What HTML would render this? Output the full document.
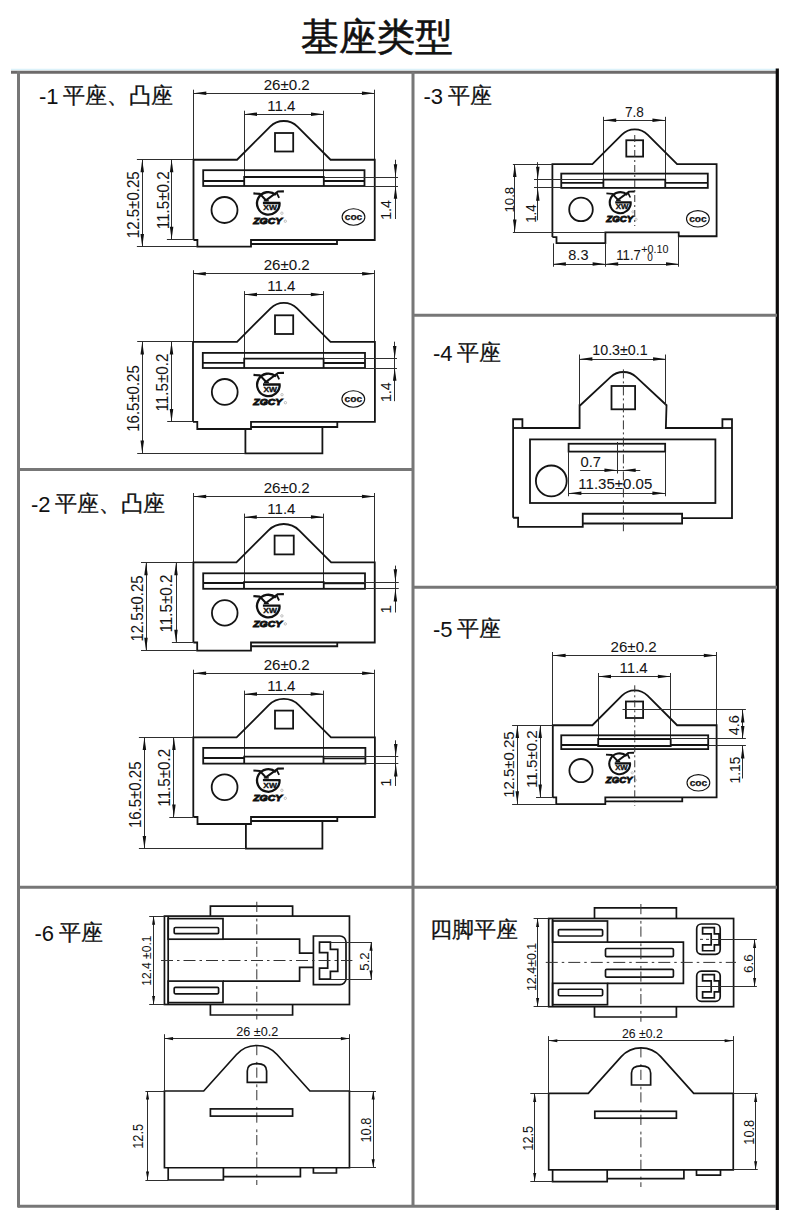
<!DOCTYPE html>
<html><head><meta charset="utf-8"><style>
html,body{margin:0;padding:0;background:#fff;width:800px;height:1210px;overflow:hidden}
svg{display:block;font-family:'Liberation Sans', sans-serif}
.cjk{font-family:'Liberation Sans', sans-serif}
</style></head><body>
<svg width="800" height="1210" viewBox="0 0 800 1210">
<line x1="11" y1="69.5" x2="776" y2="69.5" stroke="#dcf2fa" stroke-width="1.5"/>
<line x1="11" y1="72.3" x2="777" y2="72.3" stroke="#6d6a6a" stroke-width="3"/>
<line x1="18.5" y1="71" x2="18.5" y2="1207.5" stroke="#777777" stroke-width="3"/>
<line x1="413" y1="72" x2="413" y2="1206" stroke="#777777" stroke-width="3"/>
<line x1="777.3" y1="68.5" x2="777.3" y2="1210" stroke="#0d0b0b" stroke-width="3.2"/>
<line x1="18" y1="1206.3" x2="776" y2="1206.3" stroke="#777777" stroke-width="3"/>
<line x1="18" y1="469.5" x2="413" y2="469.5" stroke="#777777" stroke-width="3"/>
<line x1="413" y1="315.2" x2="777" y2="315.2" stroke="#777777" stroke-width="3"/>
<line x1="413" y1="587.3" x2="777" y2="587.3" stroke="#777777" stroke-width="3"/>
<line x1="18" y1="887.3" x2="777" y2="887.3" stroke="#777777" stroke-width="3"/>
<text x="301" y="50" font-size="38" fill="#111" stroke="#111" stroke-width="0.6">基座类型</text>
<text x="39" y="103.6" font-size="22" fill="#111">-1</text>
<text x="63" y="102.6" font-size="22" fill="#111" stroke="#111" stroke-width="0.3">平座、凸座</text>
<text x="423.5" y="103.8" font-size="22" fill="#111">-3</text>
<text x="447.5" y="102.8" font-size="22" fill="#111" stroke="#111" stroke-width="0.3">平座</text>
<text x="31" y="512" font-size="22" fill="#111">-2</text>
<text x="55" y="511" font-size="22" fill="#111" stroke="#111" stroke-width="0.3">平座、凸座</text>
<text x="433" y="361.3" font-size="22" fill="#111">-4</text>
<text x="457" y="360.3" font-size="22" fill="#111" stroke="#111" stroke-width="0.3">平座</text>
<text x="433" y="637.3" font-size="22" fill="#111">-5</text>
<text x="456.5" y="636.3" font-size="22" fill="#111" stroke="#111" stroke-width="0.3">平座</text>
<text x="34.5" y="941" font-size="22" fill="#111">-6</text>
<text x="59" y="940" font-size="22" fill="#111" stroke="#111" stroke-width="0.3">平座</text>
<text x="430" y="936.8" font-size="22" fill="#111" stroke="#111" stroke-width="0.3">四脚平座</text>
<line x1="193.5" y1="89.7" x2="193.5" y2="159.75" stroke="#2e2e2e" stroke-width="1.0"/>
<line x1="374.5" y1="89.7" x2="374.5" y2="159.75" stroke="#2e2e2e" stroke-width="1.0"/>
<line x1="193.5" y1="93.5" x2="374.75" y2="93.5" stroke="#2e2e2e" stroke-width="1.0"/>
<path d="M193.5 93.2 L206.3 94.95 L206.3 91.45 Z" fill="#111"/>
<path d="M374.75 93.2 L361.95 91.45 L361.95 94.95 Z" fill="#111"/>
<text x="286.7" y="89.6" font-size="15.5" text-anchor="middle" font-weight="normal" fill="#141414" stroke="#141414" stroke-width="0.05" textLength="46.15" lengthAdjust="spacingAndGlyphs">26±0.2</text>
<line x1="244.5" y1="110.7" x2="244.5" y2="177" stroke="#2e2e2e" stroke-width="1.0"/>
<line x1="323.5" y1="110.7" x2="323.5" y2="177" stroke="#2e2e2e" stroke-width="1.0"/>
<line x1="244.2" y1="114.5" x2="323.8" y2="114.5" stroke="#2e2e2e" stroke-width="1.0"/>
<path d="M244.2 114.2 L257 115.95 L257 112.45 Z" fill="#111"/>
<path d="M323.8 114.2 L311 112.45 L311 115.95 Z" fill="#111"/>
<text x="281.4" y="110.7" font-size="15.5" text-anchor="middle" font-weight="normal" fill="#141414" stroke="#141414" stroke-width="0.05" textLength="28.2" lengthAdjust="spacingAndGlyphs">11.4</text>
<path d="M193.5 240 L193.5 159.75 L237.05 159.75 L270.14 126.66 A19.31 19.31 0 0 1 297.46 126.66 L330.55 159.75 L374.75 159.75 L374.75 240 L251 240 L251 246.6 L197.4 246.6 L197.4 240 L193.5 240" stroke="#141414" stroke-width="1.8" fill="none"/>
<rect x="275" y="133" width="18.2" height="18.5" stroke="#141414" stroke-width="1.8" fill="none"/>
<rect x="203.2" y="170.2" width="161.3" height="15.8" stroke="#141414" stroke-width="1.8" fill="none"/>
<line x1="203.2" y1="181" x2="244.2" y2="181" stroke="#141414" stroke-width="1.8"/>
<line x1="323.8" y1="181" x2="364.5" y2="181" stroke="#141414" stroke-width="1.8"/>
<path d="M244.2 186 L244.2 177 L323.8 177 L323.8 186" stroke="#141414" stroke-width="1.8" fill="none"/>
<circle cx="224.5" cy="210" r="13" stroke="#141414" stroke-width="1.8" fill="none"/>
<g transform="translate(268.3,203.4) scale(1.0)"><path d="M7.6 -8.4 A11.3 11.3 0 1 0 11.3 -0.4 L12.2 -0.4 L-5.4 -0.4" stroke="#111" stroke-width="2.3" fill="none"/><path d="M8.4 -10.6 L10.8 -5.6" stroke="#111" stroke-width="1.8" fill="none"/><text x="1.85" y="7.1" font-size="7.6" font-weight="bold" text-anchor="middle" fill="#111" stroke="#111" stroke-width="0.35" textLength="13.6" lengthAdjust="spacingAndGlyphs" font-family="'Liberation Sans', sans-serif">XW</text><path d="M-14.9 -10 L-8.4 -9.5 L-2.4 -3.1 L9.6 -11.9 L15.6 -12" stroke="#111" stroke-width="2.1" fill="none" stroke-linejoin="bevel"/><path d="M-4.5 -2.6 L0.5 -2.6" stroke="#111" stroke-width="1.4"/><text x="-0.6" y="20.6" font-size="9" font-weight="bold" font-style="italic" text-anchor="middle" fill="#111" stroke="#111" stroke-width="0.9" textLength="29" lengthAdjust="spacingAndGlyphs" font-family="'Liberation Sans', sans-serif">ZGCY</text><circle cx="13.6" cy="9.8" r="1.2" stroke="#999" stroke-width="0.6" fill="none"/><circle cx="17" cy="17.8" r="1.2" stroke="#999" stroke-width="0.6" fill="none"/></g>
<ellipse cx="353.5" cy="217" rx="11.4" ry="8.2" stroke="#111" stroke-width="1.1" fill="none"/>
<text x="353.5" y="219.9" font-size="9" font-weight="bold" text-anchor="middle" fill="#111" stroke="#111" stroke-width="0.25" textLength="17.5" lengthAdjust="spacingAndGlyphs">coc</text>
<path d="M251 244 L337 244 L337 240" stroke="#141414" stroke-width="1.8" fill="none"/>
<line x1="136.9" y1="159.5" x2="193.5" y2="159.5" stroke="#2e2e2e" stroke-width="1.0"/>
<line x1="166.9" y1="239.5" x2="193.5" y2="239.5" stroke="#2e2e2e" stroke-width="1.0"/>
<line x1="136.9" y1="246.5" x2="197.4" y2="246.5" stroke="#2e2e2e" stroke-width="1.0"/>
<line x1="142.5" y1="159.5" x2="142.5" y2="246.9" stroke="#2e2e2e" stroke-width="1.0"/>
<path d="M142.25 159.5 L140.5 172.3 L144 172.3 Z" fill="#111"/>
<path d="M142.25 246.9 L144 234.1 L140.5 234.1 Z" fill="#111"/>
<line x1="171.5" y1="159.5" x2="171.5" y2="239.6" stroke="#2e2e2e" stroke-width="1.0"/>
<path d="M171.6 159.5 L169.85 172.3 L173.35 172.3 Z" fill="#111"/>
<path d="M171.6 239.6 L173.35 226.8 L169.85 226.8 Z" fill="#111"/>
<text transform="translate(132.55,204.75) rotate(-90)" x="0" y="5.94" font-size="16.5" text-anchor="middle" fill="#141414" stroke="#141414" stroke-width="0.05" textLength="66.95" lengthAdjust="spacingAndGlyphs">12.5±0.25</text>
<text transform="translate(162.55,200.25) rotate(-90)" x="0" y="5.94" font-size="16.5" text-anchor="middle" fill="#141414" stroke="#141414" stroke-width="0.05" textLength="57.95" lengthAdjust="spacingAndGlyphs">11.5±0.2</text>
<line x1="323.8" y1="177.5" x2="398" y2="177.5" stroke="#2e2e2e" stroke-width="1.0"/>
<line x1="364.5" y1="186.5" x2="398" y2="186.5" stroke="#2e2e2e" stroke-width="1.0"/>
<line x1="395.5" y1="159.75" x2="395.5" y2="219" stroke="#2e2e2e" stroke-width="1.0"/>
<path d="M395.5 177 L397.25 164.2 L393.75 164.2 Z" fill="#111"/>
<path d="M395.5 186 L393.75 198.8 L397.25 198.8 Z" fill="#111"/>
<text transform="translate(385.55,210) rotate(-90)" x="0" y="5.4" font-size="15" text-anchor="middle" fill="#141414" stroke="#141414" stroke-width="0.05" textLength="19.7" lengthAdjust="spacingAndGlyphs">1.4</text>
<line x1="193.5" y1="270.2" x2="193.5" y2="341.8" stroke="#2e2e2e" stroke-width="1.0"/>
<line x1="374.5" y1="270.2" x2="374.5" y2="341.8" stroke="#2e2e2e" stroke-width="1.0"/>
<line x1="193" y1="273.5" x2="374.9" y2="273.5" stroke="#2e2e2e" stroke-width="1.0"/>
<path d="M193 273.7 L205.8 275.45 L205.8 271.95 Z" fill="#111"/>
<path d="M374.9 273.7 L362.1 271.95 L362.1 275.45 Z" fill="#111"/>
<text x="286.7" y="270.1" font-size="15.5" text-anchor="middle" font-weight="normal" fill="#141414" stroke="#141414" stroke-width="0.05" textLength="46.15" lengthAdjust="spacingAndGlyphs">26±0.2</text>
<line x1="244.5" y1="291.1" x2="244.5" y2="358.7" stroke="#2e2e2e" stroke-width="1.0"/>
<line x1="323.5" y1="291.1" x2="323.5" y2="358.7" stroke="#2e2e2e" stroke-width="1.0"/>
<line x1="244.2" y1="294.5" x2="323.6" y2="294.5" stroke="#2e2e2e" stroke-width="1.0"/>
<path d="M244.2 294.6 L257 296.35 L257 292.85 Z" fill="#111"/>
<path d="M323.6 294.6 L310.8 292.85 L310.8 296.35 Z" fill="#111"/>
<text x="281.4" y="291.1" font-size="15.5" text-anchor="middle" font-weight="normal" fill="#141414" stroke="#141414" stroke-width="0.05" textLength="28.2" lengthAdjust="spacingAndGlyphs">11.4</text>
<path d="M193 421.9 L193 341.8 L237.05 341.8 L270.57 308.28 A18.71 18.71 0 0 1 297.03 308.28 L330.55 341.8 L374.9 341.8 L374.9 421.9 L251 421.9 L251 429 L197.3 429 L197.3 421.9 L193 421.9" stroke="#141414" stroke-width="1.8" fill="none"/>
<rect x="275" y="315.3" width="18.2" height="18.7" stroke="#141414" stroke-width="1.8" fill="none"/>
<rect x="202.8" y="352.9" width="162.2" height="15.1" stroke="#141414" stroke-width="1.8" fill="none"/>
<line x1="202.8" y1="362.8" x2="244.2" y2="362.8" stroke="#141414" stroke-width="1.8"/>
<line x1="323.6" y1="363" x2="365" y2="363" stroke="#141414" stroke-width="1.8"/>
<path d="M244.2 368 L244.2 358.7 L323.6 358.7 L323.6 368" stroke="#141414" stroke-width="1.8" fill="none"/>
<circle cx="224.75" cy="391.9" r="12.9" stroke="#141414" stroke-width="1.8" fill="none"/>
<g transform="translate(268.4,384.9) scale(1.0)"><path d="M7.6 -8.4 A11.3 11.3 0 1 0 11.3 -0.4 L12.2 -0.4 L-5.4 -0.4" stroke="#111" stroke-width="2.3" fill="none"/><path d="M8.4 -10.6 L10.8 -5.6" stroke="#111" stroke-width="1.8" fill="none"/><text x="1.85" y="7.1" font-size="7.6" font-weight="bold" text-anchor="middle" fill="#111" stroke="#111" stroke-width="0.35" textLength="13.6" lengthAdjust="spacingAndGlyphs" font-family="'Liberation Sans', sans-serif">XW</text><path d="M-14.9 -10 L-8.4 -9.5 L-2.4 -3.1 L9.6 -11.9 L15.6 -12" stroke="#111" stroke-width="2.1" fill="none" stroke-linejoin="bevel"/><path d="M-4.5 -2.6 L0.5 -2.6" stroke="#111" stroke-width="1.4"/><text x="-0.6" y="20.6" font-size="9" font-weight="bold" font-style="italic" text-anchor="middle" fill="#111" stroke="#111" stroke-width="0.9" textLength="29" lengthAdjust="spacingAndGlyphs" font-family="'Liberation Sans', sans-serif">ZGCY</text><circle cx="13.6" cy="9.8" r="1.2" stroke="#999" stroke-width="0.6" fill="none"/><circle cx="17" cy="17.8" r="1.2" stroke="#999" stroke-width="0.6" fill="none"/></g>
<ellipse cx="353.3" cy="399" rx="11.4" ry="8.2" stroke="#111" stroke-width="1.1" fill="none"/>
<text x="353.3" y="401.9" font-size="9" font-weight="bold" text-anchor="middle" fill="#111" stroke="#111" stroke-width="0.25" textLength="17.5" lengthAdjust="spacingAndGlyphs">coc</text>
<path d="M251 427 L337.3 427 L337.3 421.9" stroke="#141414" stroke-width="1.8" fill="none"/>
<path d="M245.4 429 L245.4 453.4 L322.4 453.4 L322.4 427" stroke="#141414" stroke-width="1.8" fill="none"/>
<line x1="137.2" y1="341.5" x2="193" y2="341.5" stroke="#2e2e2e" stroke-width="1.0"/>
<line x1="167.2" y1="421.5" x2="193" y2="421.5" stroke="#2e2e2e" stroke-width="1.0"/>
<line x1="137.2" y1="453.5" x2="245.4" y2="453.5" stroke="#2e2e2e" stroke-width="1.0"/>
<line x1="142.5" y1="341.8" x2="142.5" y2="453.4" stroke="#2e2e2e" stroke-width="1.0"/>
<path d="M142.25 341.8 L140.5 354.6 L144 354.6 Z" fill="#111"/>
<path d="M142.25 453.4 L144 440.6 L140.5 440.6 Z" fill="#111"/>
<line x1="171.5" y1="341.8" x2="171.5" y2="421.9" stroke="#2e2e2e" stroke-width="1.0"/>
<path d="M171.5 341.8 L169.75 354.6 L173.25 354.6 Z" fill="#111"/>
<path d="M171.5 421.9 L173.25 409.1 L169.75 409.1 Z" fill="#111"/>
<text transform="translate(132.7,398.5) rotate(-90)" x="0" y="5.94" font-size="16.5" text-anchor="middle" fill="#141414" stroke="#141414" stroke-width="0.05" textLength="66.55" lengthAdjust="spacingAndGlyphs">16.5±0.25</text>
<text transform="translate(162.5,382.6) rotate(-90)" x="0" y="5.94" font-size="16.5" text-anchor="middle" fill="#141414" stroke="#141414" stroke-width="0.05" textLength="57.9" lengthAdjust="spacingAndGlyphs">11.5±0.2</text>
<line x1="323.6" y1="358.5" x2="397" y2="358.5" stroke="#2e2e2e" stroke-width="1.0"/>
<line x1="365" y1="368.5" x2="397" y2="368.5" stroke="#2e2e2e" stroke-width="1.0"/>
<line x1="394.5" y1="341.7" x2="394.5" y2="401.2" stroke="#2e2e2e" stroke-width="1.0"/>
<path d="M394.7 358.7 L396.45 345.9 L392.95 345.9 Z" fill="#111"/>
<path d="M394.7 368 L392.95 380.8 L396.45 380.8 Z" fill="#111"/>
<text transform="translate(385.8,392.2) rotate(-90)" x="0" y="5.4" font-size="15" text-anchor="middle" fill="#141414" stroke="#141414" stroke-width="0.05" textLength="19.7" lengthAdjust="spacingAndGlyphs">1.4</text>
<line x1="193.5" y1="493" x2="193.5" y2="562.4" stroke="#2e2e2e" stroke-width="1.0"/>
<line x1="374.5" y1="493" x2="374.5" y2="562.4" stroke="#2e2e2e" stroke-width="1.0"/>
<line x1="193.4" y1="496.5" x2="374.75" y2="496.5" stroke="#2e2e2e" stroke-width="1.0"/>
<path d="M193.4 496.5 L206.2 498.25 L206.2 494.75 Z" fill="#111"/>
<path d="M374.75 496.5 L361.95 494.75 L361.95 498.25 Z" fill="#111"/>
<text x="286.7" y="492.9" font-size="15.5" text-anchor="middle" font-weight="normal" fill="#141414" stroke="#141414" stroke-width="0.05" textLength="46.15" lengthAdjust="spacingAndGlyphs">26±0.2</text>
<line x1="244.5" y1="513.6" x2="244.5" y2="582.1" stroke="#2e2e2e" stroke-width="1.0"/>
<line x1="323.5" y1="513.6" x2="323.5" y2="582.1" stroke="#2e2e2e" stroke-width="1.0"/>
<line x1="244" y1="517.5" x2="323.75" y2="517.5" stroke="#2e2e2e" stroke-width="1.0"/>
<path d="M244 517.1 L256.8 518.85 L256.8 515.35 Z" fill="#111"/>
<path d="M323.75 517.1 L310.95 515.35 L310.95 518.85 Z" fill="#111"/>
<text x="281.4" y="513.6" font-size="15.5" text-anchor="middle" font-weight="normal" fill="#141414" stroke="#141414" stroke-width="0.05" textLength="28.2" lengthAdjust="spacingAndGlyphs">11.4</text>
<path d="M193.4 642.5 L193.4 562.4 L236.43 562.4 L268.48 530.35 A21.67 21.67 0 0 1 299.12 530.35 L331.18 562.4 L374.75 562.4 L374.75 642.5 L251 642.5 L251 650.6 L197.2 650.6 L197.2 642.5 L193.4 642.5" stroke="#141414" stroke-width="1.8" fill="none"/>
<rect x="274.6" y="535.6" width="19.15" height="18.8" stroke="#141414" stroke-width="1.8" fill="none"/>
<rect x="203.2" y="573.3" width="161.8" height="15.5" stroke="#141414" stroke-width="1.8" fill="none"/>
<line x1="203.2" y1="583" x2="244" y2="583" stroke="#141414" stroke-width="1.8"/>
<line x1="323.75" y1="583.4" x2="365" y2="583.4" stroke="#141414" stroke-width="1.8"/>
<path d="M244 588.8 L244 582.1 L323.75 582.1 L323.75 588.8" stroke="#141414" stroke-width="1.8" fill="none"/>
<circle cx="224.75" cy="612.9" r="12.8" stroke="#141414" stroke-width="1.8" fill="none"/>
<g transform="translate(268.3,606.1) scale(1.0)"><path d="M7.6 -8.4 A11.3 11.3 0 1 0 11.3 -0.4 L12.2 -0.4 L-5.4 -0.4" stroke="#111" stroke-width="2.3" fill="none"/><path d="M8.4 -10.6 L10.8 -5.6" stroke="#111" stroke-width="1.8" fill="none"/><text x="1.85" y="7.1" font-size="7.6" font-weight="bold" text-anchor="middle" fill="#111" stroke="#111" stroke-width="0.35" textLength="13.6" lengthAdjust="spacingAndGlyphs" font-family="'Liberation Sans', sans-serif">XW</text><path d="M-14.9 -10 L-8.4 -9.5 L-2.4 -3.1 L9.6 -11.9 L15.6 -12" stroke="#111" stroke-width="2.1" fill="none" stroke-linejoin="bevel"/><path d="M-4.5 -2.6 L0.5 -2.6" stroke="#111" stroke-width="1.4"/><text x="-0.6" y="20.6" font-size="9" font-weight="bold" font-style="italic" text-anchor="middle" fill="#111" stroke="#111" stroke-width="0.9" textLength="29" lengthAdjust="spacingAndGlyphs" font-family="'Liberation Sans', sans-serif">ZGCY</text><circle cx="13.6" cy="9.8" r="1.2" stroke="#999" stroke-width="0.6" fill="none"/><circle cx="17" cy="17.8" r="1.2" stroke="#999" stroke-width="0.6" fill="none"/></g>
<path d="M251 646.25 L337.25 646.25 L337.25 642.5" stroke="#141414" stroke-width="1.8" fill="none"/>
<line x1="141" y1="562.5" x2="193.4" y2="562.5" stroke="#2e2e2e" stroke-width="1.0"/>
<line x1="171.9" y1="642.5" x2="193.4" y2="642.5" stroke="#2e2e2e" stroke-width="1.0"/>
<line x1="141" y1="650.5" x2="197.2" y2="650.5" stroke="#2e2e2e" stroke-width="1.0"/>
<line x1="146.5" y1="562.4" x2="146.5" y2="650.6" stroke="#2e2e2e" stroke-width="1.0"/>
<path d="M146 562.4 L144.25 575.2 L147.75 575.2 Z" fill="#111"/>
<path d="M146 650.6 L147.75 637.8 L144.25 637.8 Z" fill="#111"/>
<line x1="176.5" y1="562.4" x2="176.5" y2="642.5" stroke="#2e2e2e" stroke-width="1.0"/>
<path d="M176 562.4 L174.25 575.2 L177.75 575.2 Z" fill="#111"/>
<path d="M176 642.5 L177.75 629.7 L174.25 629.7 Z" fill="#111"/>
<text transform="translate(137,608.5) rotate(-90)" x="0" y="5.94" font-size="16.5" text-anchor="middle" fill="#141414" stroke="#141414" stroke-width="0.05" textLength="66.15" lengthAdjust="spacingAndGlyphs">12.5±0.25</text>
<text transform="translate(166.5,603.6) rotate(-90)" x="0" y="5.94" font-size="16.5" text-anchor="middle" fill="#141414" stroke="#141414" stroke-width="0.05" textLength="57.9" lengthAdjust="spacingAndGlyphs">11.5±0.2</text>
<line x1="323.75" y1="582.5" x2="398.75" y2="582.5" stroke="#2e2e2e" stroke-width="1.0"/>
<line x1="365" y1="588.5" x2="398.75" y2="588.5" stroke="#2e2e2e" stroke-width="1.0"/>
<line x1="395.5" y1="565.6" x2="395.5" y2="612.5" stroke="#2e2e2e" stroke-width="1.0"/>
<path d="M395.4 582.1 L397.15 569.3 L393.65 569.3 Z" fill="#111"/>
<path d="M395.4 588.8 L393.65 601.6 L397.15 601.6 Z" fill="#111"/>
<text transform="translate(385.65,609.3) rotate(-90)" x="0" y="5.4" font-size="15" text-anchor="middle" fill="#141414" stroke="#141414" stroke-width="0.05">1</text>
<line x1="193.5" y1="669.7" x2="193.5" y2="737.3" stroke="#2e2e2e" stroke-width="1.0"/>
<line x1="374.5" y1="669.7" x2="374.5" y2="737.3" stroke="#2e2e2e" stroke-width="1.0"/>
<line x1="193.3" y1="673.5" x2="374.9" y2="673.5" stroke="#2e2e2e" stroke-width="1.0"/>
<path d="M193.3 673.2 L206.1 674.95 L206.1 671.45 Z" fill="#111"/>
<path d="M374.9 673.2 L362.1 671.45 L362.1 674.95 Z" fill="#111"/>
<text x="286.7" y="669.6" font-size="15.5" text-anchor="middle" font-weight="normal" fill="#141414" stroke="#141414" stroke-width="0.05" textLength="46.15" lengthAdjust="spacingAndGlyphs">26±0.2</text>
<line x1="244.5" y1="690.6" x2="244.5" y2="756.7" stroke="#2e2e2e" stroke-width="1.0"/>
<line x1="323.5" y1="690.6" x2="323.5" y2="756.7" stroke="#2e2e2e" stroke-width="1.0"/>
<line x1="244.2" y1="694.5" x2="323.5" y2="694.5" stroke="#2e2e2e" stroke-width="1.0"/>
<path d="M244.2 694.1 L257 695.85 L257 692.35 Z" fill="#111"/>
<path d="M323.5 694.1 L310.7 692.35 L310.7 695.85 Z" fill="#111"/>
<text x="281.4" y="690.6" font-size="15.5" text-anchor="middle" font-weight="normal" fill="#141414" stroke="#141414" stroke-width="0.05" textLength="28.2" lengthAdjust="spacingAndGlyphs">11.4</text>
<path d="M193.3 817 L193.3 737.3 L236.6 737.3 L268.78 705.12 A21.25 21.25 0 0 1 298.82 705.12 L331 737.3 L374.9 737.3 L374.9 817 L251 817 L251 824 L197.5 824 L197.5 817 L193.3 817" stroke="#141414" stroke-width="1.8" fill="none"/>
<rect x="275" y="710.6" width="18.1" height="18" stroke="#141414" stroke-width="1.8" fill="none"/>
<rect x="203.2" y="747.9" width="162.2" height="15.7" stroke="#141414" stroke-width="1.8" fill="none"/>
<line x1="203.2" y1="758" x2="244.2" y2="758" stroke="#141414" stroke-width="1.8"/>
<line x1="323.5" y1="758.4" x2="365.4" y2="758.4" stroke="#141414" stroke-width="1.8"/>
<path d="M244.2 763.6 L244.2 756.7 L323.5 756.7 L323.5 763.6" stroke="#141414" stroke-width="1.8" fill="none"/>
<circle cx="224.6" cy="787.3" r="12.9" stroke="#141414" stroke-width="1.8" fill="none"/>
<g transform="translate(268.3,780.5) scale(1.0)"><path d="M7.6 -8.4 A11.3 11.3 0 1 0 11.3 -0.4 L12.2 -0.4 L-5.4 -0.4" stroke="#111" stroke-width="2.3" fill="none"/><path d="M8.4 -10.6 L10.8 -5.6" stroke="#111" stroke-width="1.8" fill="none"/><text x="1.85" y="7.1" font-size="7.6" font-weight="bold" text-anchor="middle" fill="#111" stroke="#111" stroke-width="0.35" textLength="13.6" lengthAdjust="spacingAndGlyphs" font-family="'Liberation Sans', sans-serif">XW</text><path d="M-14.9 -10 L-8.4 -9.5 L-2.4 -3.1 L9.6 -11.9 L15.6 -12" stroke="#111" stroke-width="2.1" fill="none" stroke-linejoin="bevel"/><path d="M-4.5 -2.6 L0.5 -2.6" stroke="#111" stroke-width="1.4"/><text x="-0.6" y="20.6" font-size="9" font-weight="bold" font-style="italic" text-anchor="middle" fill="#111" stroke="#111" stroke-width="0.9" textLength="29" lengthAdjust="spacingAndGlyphs" font-family="'Liberation Sans', sans-serif">ZGCY</text><circle cx="13.6" cy="9.8" r="1.2" stroke="#999" stroke-width="0.6" fill="none"/><circle cx="17" cy="17.8" r="1.2" stroke="#999" stroke-width="0.6" fill="none"/></g>
<path d="M251 821 L337.3 821 L337.3 817" stroke="#141414" stroke-width="1.8" fill="none"/>
<path d="M245.9 824 L245.9 848.7 L322.4 848.7 L322.4 821" stroke="#141414" stroke-width="1.8" fill="none"/>
<line x1="138.9" y1="737.5" x2="193.3" y2="737.5" stroke="#2e2e2e" stroke-width="1.0"/>
<line x1="169.3" y1="817.5" x2="193.3" y2="817.5" stroke="#2e2e2e" stroke-width="1.0"/>
<line x1="138.9" y1="848.5" x2="245.9" y2="848.5" stroke="#2e2e2e" stroke-width="1.0"/>
<line x1="144.5" y1="737.3" x2="144.5" y2="848.7" stroke="#2e2e2e" stroke-width="1.0"/>
<path d="M144.4 737.3 L142.65 750.1 L146.15 750.1 Z" fill="#111"/>
<path d="M144.4 848.7 L146.15 835.9 L142.65 835.9 Z" fill="#111"/>
<line x1="173.5" y1="737.3" x2="173.5" y2="817.3" stroke="#2e2e2e" stroke-width="1.0"/>
<path d="M173.9 737.3 L172.15 750.1 L175.65 750.1 Z" fill="#111"/>
<path d="M173.9 817.3 L175.65 804.5 L172.15 804.5 Z" fill="#111"/>
<text transform="translate(134.75,794.8) rotate(-90)" x="0" y="5.94" font-size="16.5" text-anchor="middle" fill="#141414" stroke="#141414" stroke-width="0.05" textLength="66.55" lengthAdjust="spacingAndGlyphs">16.5±0.25</text>
<text transform="translate(164.4,777.75) rotate(-90)" x="0" y="5.94" font-size="16.5" text-anchor="middle" fill="#141414" stroke="#141414" stroke-width="0.05" textLength="57.9" lengthAdjust="spacingAndGlyphs">11.5±0.2</text>
<line x1="323.5" y1="756.5" x2="398.3" y2="756.5" stroke="#2e2e2e" stroke-width="1.0"/>
<line x1="365.4" y1="763.5" x2="398.3" y2="763.5" stroke="#2e2e2e" stroke-width="1.0"/>
<line x1="395.5" y1="740.3" x2="395.5" y2="786" stroke="#2e2e2e" stroke-width="1.0"/>
<path d="M395.75 756.7 L397.5 743.9 L394 743.9 Z" fill="#111"/>
<path d="M395.75 763.6 L394 776.4 L397.5 776.4 Z" fill="#111"/>
<text transform="translate(386,782.6) rotate(-90)" x="0" y="5.4" font-size="15" text-anchor="middle" fill="#141414" stroke="#141414" stroke-width="0.05">1</text>
<line x1="603.5" y1="116.8" x2="603.5" y2="179.6" stroke="#2e2e2e" stroke-width="1.0"/>
<line x1="665.5" y1="116.8" x2="665.5" y2="179.6" stroke="#2e2e2e" stroke-width="1.0"/>
<line x1="603.4" y1="120.5" x2="665.25" y2="120.5" stroke="#2e2e2e" stroke-width="1.0"/>
<path d="M603.4 120.3 L616.2 122.05 L616.2 118.55 Z" fill="#111"/>
<path d="M665.25 120.3 L652.45 118.55 L652.45 122.05 Z" fill="#111"/>
<text x="634.4" y="116.8" font-size="14" text-anchor="middle" font-weight="normal" fill="#141414" stroke="#141414" stroke-width="0.05" textLength="18.9" lengthAdjust="spacingAndGlyphs">7.8</text>
<path d="M552.4 237.1 L552.4 164.1 L592.4 164.1 L621.69 134.81 A18.47 18.47 0 0 1 647.81 134.81 L677.1 164.1 L716.6 164.1 L716.6 236.25 L678.75 236.25 L678.75 232.4 L605.4 232.4 L605.4 243.2 L556.5 243.2 L556.5 237.1 L552.4 237.1" stroke="#141414" stroke-width="1.8" fill="none"/>
<rect x="626.3" y="140.25" width="16.8" height="16.35" stroke="#141414" stroke-width="1.8" fill="none"/>
<rect x="561.25" y="173.6" width="146.55" height="14.3" stroke="#141414" stroke-width="1.8" fill="none"/>
<line x1="561.25" y1="182.8" x2="603.4" y2="182.8" stroke="#141414" stroke-width="1.8"/>
<line x1="665.25" y1="182.8" x2="707.8" y2="182.8" stroke="#141414" stroke-width="1.8"/>
<path d="M603.4 187.9 L603.4 179.6 L665.25 179.6 L665.25 187.9" stroke="#141414" stroke-width="1.8" fill="none"/>
<circle cx="581" cy="209.4" r="11.8" stroke="#141414" stroke-width="1.8" fill="none"/>
<g transform="translate(620.25,202.7) scale(0.93)"><path d="M7.6 -8.4 A11.3 11.3 0 1 0 11.3 -0.4 L12.2 -0.4 L-5.4 -0.4" stroke="#111" stroke-width="2.3" fill="none"/><path d="M8.4 -10.6 L10.8 -5.6" stroke="#111" stroke-width="1.8" fill="none"/><text x="1.85" y="7.1" font-size="7.6" font-weight="bold" text-anchor="middle" fill="#111" stroke="#111" stroke-width="0.35" textLength="13.6" lengthAdjust="spacingAndGlyphs" font-family="'Liberation Sans', sans-serif">XW</text><path d="M-14.9 -10 L-8.4 -9.5 L-2.4 -3.1 L9.6 -11.9 L15.6 -12" stroke="#111" stroke-width="2.1" fill="none" stroke-linejoin="bevel"/><path d="M-4.5 -2.6 L0.5 -2.6" stroke="#111" stroke-width="1.4"/><text x="-0.6" y="20.6" font-size="9" font-weight="bold" font-style="italic" text-anchor="middle" fill="#111" stroke="#111" stroke-width="0.9" textLength="29" lengthAdjust="spacingAndGlyphs" font-family="'Liberation Sans', sans-serif">ZGCY</text><circle cx="13.6" cy="9.8" r="1.2" stroke="#999" stroke-width="0.6" fill="none"/><circle cx="17" cy="17.8" r="1.2" stroke="#999" stroke-width="0.6" fill="none"/></g>
<ellipse cx="697.9" cy="218.8" rx="11.4" ry="8.2" stroke="#111" stroke-width="1.1" fill="none"/>
<text x="697.9" y="221.7" font-size="9" font-weight="bold" text-anchor="middle" fill="#111" stroke="#111" stroke-width="0.25" textLength="17.5" lengthAdjust="spacingAndGlyphs">coc</text>
<line x1="634.75" y1="135" x2="634.75" y2="226" stroke="#333" stroke-width="1" stroke-dasharray="7 3 2 3"/>
<line x1="512.9" y1="164.5" x2="552.4" y2="164.5" stroke="#2e2e2e" stroke-width="1.0"/>
<line x1="512.9" y1="232.5" x2="605.4" y2="232.5" stroke="#2e2e2e" stroke-width="1.0"/>
<line x1="514.5" y1="164.1" x2="514.5" y2="232.4" stroke="#2e2e2e" stroke-width="1.0"/>
<path d="M514.75 164.1 L513 176.9 L516.5 176.9 Z" fill="#111"/>
<path d="M514.75 232.4 L516.5 219.6 L513 219.6 Z" fill="#111"/>
<text transform="translate(508.75,199.7) rotate(-90)" x="0" y="4.86" font-size="13.5" text-anchor="middle" fill="#141414" stroke="#141414" stroke-width="0.05" textLength="25.75" lengthAdjust="spacingAndGlyphs">10.8</text>
<line x1="534" y1="179.5" x2="603.4" y2="179.5" stroke="#2e2e2e" stroke-width="1.0"/>
<line x1="534" y1="187.5" x2="561.25" y2="187.5" stroke="#2e2e2e" stroke-width="1.0"/>
<line x1="537.5" y1="162.2" x2="537.5" y2="220.3" stroke="#2e2e2e" stroke-width="1.0"/>
<path d="M537.8 179.6 L539.55 166.8 L536.05 166.8 Z" fill="#111"/>
<path d="M537.8 187.9 L536.05 200.7 L539.55 200.7 Z" fill="#111"/>
<text transform="translate(530.5,213.65) rotate(-90)" x="0" y="5.04" font-size="14" text-anchor="middle" fill="#141414" stroke="#141414" stroke-width="0.05" textLength="18.4" lengthAdjust="spacingAndGlyphs">1.4</text>
<line x1="553.5" y1="243.4" x2="553.5" y2="266.75" stroke="#2e2e2e" stroke-width="1.0"/>
<line x1="605.5" y1="243.2" x2="605.5" y2="266.75" stroke="#2e2e2e" stroke-width="1.0"/>
<line x1="678.5" y1="236.25" x2="678.5" y2="266.75" stroke="#2e2e2e" stroke-width="1.0"/>
<line x1="553.1" y1="264.5" x2="605.4" y2="264.5" stroke="#2e2e2e" stroke-width="1.0"/>
<path d="M553.1 264 L565.9 265.75 L565.9 262.25 Z" fill="#111"/>
<path d="M605.4 264 L592.6 262.25 L592.6 265.75 Z" fill="#111"/>
<line x1="605.4" y1="264.5" x2="678.8" y2="264.5" stroke="#2e2e2e" stroke-width="1.0"/>
<path d="M605.4 264 L618.2 265.75 L618.2 262.25 Z" fill="#111"/>
<path d="M678.8 264 L666 262.25 L666 265.75 Z" fill="#111"/>
<text x="578.4" y="260.25" font-size="14" text-anchor="middle" font-weight="normal" fill="#141414" stroke="#141414" stroke-width="0.05" textLength="20.15" lengthAdjust="spacingAndGlyphs">8.3</text>
<text x="628.6" y="259.5" font-size="14" text-anchor="middle" font-weight="normal" fill="#141414" stroke="#141414" stroke-width="0.05" textLength="24.65" lengthAdjust="spacingAndGlyphs">11.7</text>
<text x="641.2" y="252.75" font-size="10.5" text-anchor="start" font-weight="normal" fill="#141414" stroke="#141414" stroke-width="0.05" textLength="27.3" lengthAdjust="spacingAndGlyphs">+0.10</text>
<text x="647.2" y="261" font-size="10.5" text-anchor="start" font-weight="normal" fill="#141414" stroke="#141414" stroke-width="0.05" textLength="5.55" lengthAdjust="spacingAndGlyphs">0</text>
<rect x="611.5" y="386" width="23.6" height="23.3" stroke="#141414" stroke-width="1.8" fill="none"/>
<path d="M513.1 517.75 L513.1 419.25 L522.4 419.25 L522.4 428 L579.6 428 L579.6 405.25 L580.27 405.25 L610.47 377.09 A18.96 18.96 0 0 1 636.33 377.09 L666.52 405.25 L665.85 428 L722.4 428 L722.4 419.25 L732 419.25 L732 518.1 L682.1 518.1" stroke="#141414" stroke-width="1.8" fill="none"/>
<path d="M513.1 517.75 L518.1 517.75 L518.1 526.9 L582.75 526.9 L582.75 513.75 L682.1 513.75 L682.1 523.5 L582.75 523.5" stroke="#141414" stroke-width="1.8" fill="none"/>
<rect x="530" y="439.4" width="185.4" height="63.6" stroke="#141414" stroke-width="1.8" fill="none"/>
<line x1="513.1" y1="428" x2="522.4" y2="428" stroke="#141414" stroke-width="1.8"/>
<line x1="722.4" y1="428" x2="732" y2="428" stroke="#141414" stroke-width="1.8"/>
<rect x="568.6" y="443.75" width="96.55" height="7.85" stroke="#141414" stroke-width="1.8" fill="none"/>
<circle cx="551.3" cy="480.9" r="15.4" stroke="#141414" stroke-width="1.8" fill="none"/>
<line x1="623.4" y1="369.4" x2="623.4" y2="531.25" stroke="#333" stroke-width="1" stroke-dasharray="9 3 2 3"/>
<line x1="579.5" y1="354.5" x2="579.5" y2="405.25" stroke="#2e2e2e" stroke-width="1.0"/>
<line x1="665.5" y1="354.5" x2="665.5" y2="405.25" stroke="#2e2e2e" stroke-width="1.0"/>
<line x1="579.6" y1="359.5" x2="665.85" y2="359.5" stroke="#2e2e2e" stroke-width="1.0"/>
<path d="M579.6 359.1 L592.4 360.85 L592.4 357.35 Z" fill="#111"/>
<path d="M665.85 359.1 L653.05 357.35 L653.05 360.85 Z" fill="#111"/>
<text x="620" y="355.2" font-size="14.5" text-anchor="middle" font-weight="normal" fill="#141414" stroke="#141414" stroke-width="0.05" textLength="55.45" lengthAdjust="spacingAndGlyphs">10.3±0.1</text>
<line x1="568.5" y1="451.6" x2="568.5" y2="496.25" stroke="#2e2e2e" stroke-width="1.0"/>
<line x1="665.5" y1="451.6" x2="665.5" y2="496.25" stroke="#2e2e2e" stroke-width="1.0"/>
<line x1="568.6" y1="493.5" x2="665.15" y2="493.5" stroke="#2e2e2e" stroke-width="1.0"/>
<path d="M568.6 493.3 L581.4 495.05 L581.4 491.55 Z" fill="#111"/>
<path d="M665.15 493.3 L652.35 491.55 L652.35 495.05 Z" fill="#111"/>
<text x="615.3" y="488.8" font-size="14.5" text-anchor="middle" font-weight="normal" fill="#141414" stroke="#141414" stroke-width="0.05" textLength="74.05" lengthAdjust="spacingAndGlyphs">11.35±0.05</text>
<line x1="617.5" y1="442" x2="617.5" y2="473.5" stroke="#2e2e2e" stroke-width="1.0"/>
<line x1="580.1" y1="470.5" x2="640.3" y2="470.5" stroke="#2e2e2e" stroke-width="1.0"/>
<path d="M617.25 470.25 L604.45 468.5 L604.45 472 Z" fill="#111"/>
<path d="M622.9 470.25 L635.7 472 L635.7 468.5 Z" fill="#111"/>
<text x="590.8" y="466.9" font-size="14.5" text-anchor="middle" font-weight="normal" fill="#141414" stroke="#141414" stroke-width="0.05" textLength="20.55" lengthAdjust="spacingAndGlyphs">0.7</text>
<line x1="552.5" y1="652" x2="552.5" y2="725.25" stroke="#2e2e2e" stroke-width="1.0"/>
<line x1="716.5" y1="652" x2="716.5" y2="725.25" stroke="#2e2e2e" stroke-width="1.0"/>
<line x1="552.8" y1="655.5" x2="716.6" y2="655.5" stroke="#2e2e2e" stroke-width="1.0"/>
<path d="M552.8 655.5 L565.6 657.25 L565.6 653.75 Z" fill="#111"/>
<path d="M716.6 655.5 L703.8 653.75 L703.8 657.25 Z" fill="#111"/>
<text x="633.6" y="651.9" font-size="15.5" text-anchor="middle" font-weight="normal" fill="#141414" stroke="#141414" stroke-width="0.05" textLength="46.15" lengthAdjust="spacingAndGlyphs">26±0.2</text>
<line x1="598.5" y1="673" x2="598.5" y2="739" stroke="#2e2e2e" stroke-width="1.0"/>
<line x1="670.5" y1="673" x2="670.5" y2="739" stroke="#2e2e2e" stroke-width="1.0"/>
<line x1="598.2" y1="676.5" x2="670.7" y2="676.5" stroke="#2e2e2e" stroke-width="1.0"/>
<path d="M598.2 676.5 L611 678.25 L611 674.75 Z" fill="#111"/>
<path d="M670.7 676.5 L657.9 674.75 L657.9 678.25 Z" fill="#111"/>
<text x="633.6" y="673" font-size="15.5" text-anchor="middle" font-weight="normal" fill="#141414" stroke="#141414" stroke-width="0.05" textLength="28.2" lengthAdjust="spacingAndGlyphs">11.4</text>
<path d="M552.8 797.4 L552.8 725.25 L592.4 725.25 L621.95 695.7 A18.11 18.11 0 0 1 647.55 695.7 L677.1 725.25 L716.6 725.25 L716.6 797.4 L605.3 797.4 L605.3 804.1 L556.25 804.1 L556.25 797.4 L552.8 797.4" stroke="#141414" stroke-width="1.8" fill="none"/>
<rect x="625.9" y="701.5" width="17.2" height="16.5" stroke="#141414" stroke-width="1.8" fill="none"/>
<rect x="561.25" y="735.3" width="146.95" height="13.8" stroke="#141414" stroke-width="1.8" fill="none"/>
<line x1="561.25" y1="745" x2="598.2" y2="745" stroke="#141414" stroke-width="1.8"/>
<line x1="670.7" y1="745" x2="708.2" y2="745" stroke="#141414" stroke-width="1.8"/>
<path d="M598.2 746 L598.2 739 L670.7 739 L670.7 746 Z" stroke="#141414" stroke-width="1.8" fill="none"/>
<circle cx="581" cy="770.6" r="11.6" stroke="#141414" stroke-width="1.8" fill="none"/>
<g transform="translate(619.7,763.8) scale(0.92)"><path d="M7.6 -8.4 A11.3 11.3 0 1 0 11.3 -0.4 L12.2 -0.4 L-5.4 -0.4" stroke="#111" stroke-width="2.3" fill="none"/><path d="M8.4 -10.6 L10.8 -5.6" stroke="#111" stroke-width="1.8" fill="none"/><text x="1.85" y="7.1" font-size="7.6" font-weight="bold" text-anchor="middle" fill="#111" stroke="#111" stroke-width="0.35" textLength="13.6" lengthAdjust="spacingAndGlyphs" font-family="'Liberation Sans', sans-serif">XW</text><path d="M-14.9 -10 L-8.4 -9.5 L-2.4 -3.1 L9.6 -11.9 L15.6 -12" stroke="#111" stroke-width="2.1" fill="none" stroke-linejoin="bevel"/><path d="M-4.5 -2.6 L0.5 -2.6" stroke="#111" stroke-width="1.4"/><text x="-0.6" y="20.6" font-size="9" font-weight="bold" font-style="italic" text-anchor="middle" fill="#111" stroke="#111" stroke-width="0.9" textLength="29" lengthAdjust="spacingAndGlyphs" font-family="'Liberation Sans', sans-serif">ZGCY</text><circle cx="13.6" cy="9.8" r="1.2" stroke="#999" stroke-width="0.6" fill="none"/><circle cx="17" cy="17.8" r="1.2" stroke="#999" stroke-width="0.6" fill="none"/></g>
<ellipse cx="698.4" cy="782.8" rx="11.4" ry="8.2" stroke="#111" stroke-width="1.1" fill="none"/>
<text x="698.4" y="785.7" font-size="9" font-weight="bold" text-anchor="middle" fill="#111" stroke="#111" stroke-width="0.25" textLength="17.5" lengthAdjust="spacingAndGlyphs">coc</text>
<path d="M605.3 801.4 L682.25 801.4 L682.25 797.4" stroke="#141414" stroke-width="1.8" fill="none"/>
<line x1="634.75" y1="685.3" x2="634.75" y2="806" stroke="#333" stroke-width="1" stroke-dasharray="7 3 2 3"/>
<line x1="512.1" y1="725.5" x2="552.8" y2="725.5" stroke="#2e2e2e" stroke-width="1.0"/>
<line x1="536" y1="797.5" x2="552.8" y2="797.5" stroke="#2e2e2e" stroke-width="1.0"/>
<line x1="512.1" y1="804.5" x2="556.25" y2="804.5" stroke="#2e2e2e" stroke-width="1.0"/>
<line x1="517.5" y1="725.25" x2="517.5" y2="804.1" stroke="#2e2e2e" stroke-width="1.0"/>
<path d="M517.3 725.25 L515.55 738.05 L519.05 738.05 Z" fill="#111"/>
<path d="M517.3 804.1 L519.05 791.3 L515.55 791.3 Z" fill="#111"/>
<line x1="540.5" y1="725.25" x2="540.5" y2="797.3" stroke="#2e2e2e" stroke-width="1.0"/>
<path d="M540.2 725.25 L538.45 738.05 L541.95 738.05 Z" fill="#111"/>
<path d="M540.2 797.3 L541.95 784.5 L538.45 784.5 Z" fill="#111"/>
<text transform="translate(508.1,764.6) rotate(-90)" x="0" y="5.47" font-size="15.2" text-anchor="middle" fill="#141414" stroke="#141414" stroke-width="0.05" textLength="66.42" lengthAdjust="spacingAndGlyphs">12.5±0.25</text>
<text transform="translate(531.2,759.1) rotate(-90)" x="0" y="5.47" font-size="15.2" text-anchor="middle" fill="#141414" stroke="#141414" stroke-width="0.05" textLength="57.77" lengthAdjust="spacingAndGlyphs">11.5±0.2</text>
<line x1="622.5" y1="709.5" x2="745.9" y2="709.5" stroke="#2e2e2e" stroke-width="1.0"/>
<line x1="670.7" y1="738.5" x2="745.9" y2="738.5" stroke="#2e2e2e" stroke-width="1.0"/>
<line x1="708.2" y1="745.5" x2="745.9" y2="745.5" stroke="#2e2e2e" stroke-width="1.0"/>
<line x1="742.5" y1="709.7" x2="742.5" y2="738.7" stroke="#2e2e2e" stroke-width="1.0"/>
<path d="M742.7 709.7 L740.95 722.5 L744.45 722.5 Z" fill="#111"/>
<path d="M742.7 738.7 L744.45 725.9 L740.95 725.9 Z" fill="#111"/>
<line x1="742.5" y1="745.75" x2="742.5" y2="778.5" stroke="#2e2e2e" stroke-width="1.0"/>
<path d="M742.7 745.75 L740.95 758.55 L744.45 758.55 Z" fill="#111"/>
<text transform="translate(733.6,725.3) rotate(-90)" x="0" y="5.22" font-size="14.5" text-anchor="middle" fill="#141414" stroke="#141414" stroke-width="0.05" textLength="20.05" lengthAdjust="spacingAndGlyphs">4.6</text>
<text transform="translate(734.7,770) rotate(-90)" x="0" y="5.22" font-size="14.5" text-anchor="middle" fill="#141414" stroke="#141414" stroke-width="0.05" textLength="26.75" lengthAdjust="spacingAndGlyphs">1.15</text>
<rect x="164.45" y="916.1" width="185" height="88.4" stroke="#141414" stroke-width="1.7" fill="none"/>
<line x1="168.2" y1="916.1" x2="168.2" y2="1004.5" stroke="#141414" stroke-width="1.7"/>
<path d="M210.4 916.1 L210.4 906.05 L292.6 906.05 L292.6 916.1" stroke="#141414" stroke-width="1.7" fill="none"/>
<path d="M210.4 1004.5 L210.4 1015 L292.6 1015 L292.6 1004.5" stroke="#141414" stroke-width="1.7" fill="none"/>
<rect x="168.2" y="918.6" width="54.8" height="20.6" stroke="#141414" stroke-width="1.7" fill="none"/>
<rect x="168.2" y="981.1" width="54.8" height="21.5" stroke="#141414" stroke-width="1.7" fill="none"/>
<rect x="174.2" y="927.5" width="44.4" height="6.2" rx="1.2" stroke="#141414" stroke-width="1.7" fill="none"/>
<rect x="174.2" y="987.4" width="44.4" height="6.4" rx="1.2" stroke="#141414" stroke-width="1.7" fill="none"/>
<path d="M223 939.2 L299.6 939.2 L299.6 953.2 L313.4 953.2" stroke="#141414" stroke-width="1.7" fill="none"/>
<path d="M223 981.1 L299.6 981.1 L299.6 967.3 L313.4 967.3" stroke="#141414" stroke-width="1.7" fill="none"/>
<path d="M313.4 936 L340 936 A6 6 0 0 1 346 942 L346 978.7 A6 6 0 0 1 340 984.7 L313.4 984.7 Z" stroke="#141414" stroke-width="1.7" fill="none"/>
<path d="M319.5 942.1 L330.4 942.1 L330.4 949.4 L337.75 949.4 L337.75 971.4 L330.4 971.4 L330.4 979.2 L319.5 979.2 L319.5 968.1 L327.7 968.1 L327.7 952.7 L319.5 952.7 Z" stroke="#141414" stroke-width="1.7" fill="none"/>
<line x1="161" y1="960.5" x2="352.4" y2="960.5" stroke="#333" stroke-width="1" stroke-dasharray="12 4 2.5 4"/>
<line x1="256.8" y1="901.75" x2="256.8" y2="1019.5" stroke="#333" stroke-width="1" stroke-dasharray="10.2 6.7 2.8 2.8"/>
<line x1="256.8" y1="1045" x2="256.8" y2="1185" stroke="#333" stroke-width="1" stroke-dasharray="10.2 6.7 2.8 2.8"/>
<line x1="149.2" y1="916.5" x2="164.45" y2="916.5" stroke="#2e2e2e" stroke-width="1.0"/>
<line x1="149.2" y1="1004.5" x2="164.45" y2="1004.5" stroke="#2e2e2e" stroke-width="1.0"/>
<line x1="153.5" y1="916.1" x2="153.5" y2="1004.5" stroke="#2e2e2e" stroke-width="1.0"/>
<path d="M153.6 916.1 L152.05 924.7 L155.15 924.7 Z" fill="#111"/>
<path d="M153.6 1004.5 L155.15 995.9 L152.05 995.9 Z" fill="#111"/>
<text transform="translate(146.6,960.6) rotate(-90)" x="0" y="4.86" font-size="13.5" text-anchor="middle" fill="#141414" stroke="#141414" stroke-width="0.05" textLength="50.1" lengthAdjust="spacingAndGlyphs">12.4 ±0.1</text>
<line x1="330.4" y1="942.5" x2="371.9" y2="942.5" stroke="#2e2e2e" stroke-width="1.0"/>
<line x1="330.4" y1="979.5" x2="371.9" y2="979.5" stroke="#2e2e2e" stroke-width="1.0"/>
<line x1="371.5" y1="942.1" x2="371.5" y2="979.2" stroke="#2e2e2e" stroke-width="1.0"/>
<path d="M371.05 942.1 L369.5 950.7 L372.6 950.7 Z" fill="#111"/>
<path d="M371.05 979.2 L372.6 970.6 L369.5 970.6 Z" fill="#111"/>
<text transform="translate(363.9,961.5) rotate(-90)" x="0" y="4.86" font-size="13.5" text-anchor="middle" fill="#141414" stroke="#141414" stroke-width="0.05" textLength="18.35" lengthAdjust="spacingAndGlyphs">5.2</text>
<path d="M164.45 1167.75 L164.45 1091 L203.7 1091 L236.55 1054.52 A27.25 27.25 0 0 1 277.05 1054.52 L309.9 1091 L349.45 1091 L349.45 1167.75 Z" stroke="#141414" stroke-width="1.7" fill="none"/>
<path d="M168.2 1167.75 L168.2 1180 L223.4 1180 L223.4 1167.75" stroke="#141414" stroke-width="1.7" fill="none"/>
<path d="M223.4 1176.7 L300.4 1176.7 L300.4 1167.75" stroke="#141414" stroke-width="1.7" fill="none"/>
<path d="M313.4 1167.75 L313.4 1173 L336.45 1173 L336.45 1167.75" stroke="#141414" stroke-width="1.7" fill="none"/>
<rect x="210.4" y="1108.9" width="82.2" height="7.2" stroke="#141414" stroke-width="1.7" fill="none"/>
<path d="M247.3 1082.4 L247.3 1071 C247.3 1066 251 1063.7 256.95 1063.7 C262.9 1063.7 266.6 1066 266.6 1071 L266.6 1082.4 Z" stroke="#141414" stroke-width="1.7" fill="none"/>
<line x1="164.5" y1="1034.2" x2="164.5" y2="1091" stroke="#2e2e2e" stroke-width="1.0"/>
<line x1="349.5" y1="1034.2" x2="349.5" y2="1091" stroke="#2e2e2e" stroke-width="1.0"/>
<line x1="164.45" y1="1038.5" x2="349.45" y2="1038.5" stroke="#2e2e2e" stroke-width="1.0"/>
<path d="M164.45 1038.6 L173.05 1040.15 L173.05 1037.05 Z" fill="#111"/>
<path d="M349.45 1038.6 L340.85 1037.05 L340.85 1040.15 Z" fill="#111"/>
<text x="257.2" y="1036" font-size="13.5" text-anchor="middle" font-weight="normal" fill="#141414" stroke="#141414" stroke-width="0.05" textLength="42.15" lengthAdjust="spacingAndGlyphs">26 ±0.2</text>
<line x1="145.4" y1="1091.5" x2="164.45" y2="1091.5" stroke="#2e2e2e" stroke-width="1.0"/>
<line x1="145.4" y1="1180.5" x2="168.2" y2="1180.5" stroke="#2e2e2e" stroke-width="1.0"/>
<line x1="147.5" y1="1091" x2="147.5" y2="1180" stroke="#2e2e2e" stroke-width="1.0"/>
<path d="M147.55 1091 L146 1099.6 L149.1 1099.6 Z" fill="#111"/>
<path d="M147.55 1180 L149.1 1171.4 L146 1171.4 Z" fill="#111"/>
<text transform="translate(138.25,1136.4) rotate(-90)" x="0" y="5.04" font-size="14" text-anchor="middle" fill="#141414" stroke="#141414" stroke-width="0.05" textLength="24.8" lengthAdjust="spacingAndGlyphs">12.5</text>
<line x1="349.45" y1="1091.5" x2="376" y2="1091.5" stroke="#2e2e2e" stroke-width="1.0"/>
<line x1="349.45" y1="1167.5" x2="376" y2="1167.5" stroke="#2e2e2e" stroke-width="1.0"/>
<line x1="373.5" y1="1091" x2="373.5" y2="1167.75" stroke="#2e2e2e" stroke-width="1.0"/>
<path d="M373.2 1091 L371.65 1099.6 L374.75 1099.6 Z" fill="#111"/>
<path d="M373.2 1167.75 L374.75 1159.15 L371.65 1159.15 Z" fill="#111"/>
<text transform="translate(366.1,1130.1) rotate(-90)" x="0" y="5.04" font-size="14" text-anchor="middle" fill="#141414" stroke="#141414" stroke-width="0.05" textLength="24.9" lengthAdjust="spacingAndGlyphs">10.8</text>
<rect x="548.7" y="918.5" width="184.9" height="88.2" stroke="#141414" stroke-width="1.7" fill="none"/>
<line x1="552.6" y1="918.5" x2="552.6" y2="1006.7" stroke="#141414" stroke-width="1.7"/>
<path d="M594.5 918.5 L594.5 907.9 L676.4 907.9 L676.4 918.5" stroke="#141414" stroke-width="1.7" fill="none"/>
<path d="M594.5 1006.7 L594.5 1017 L676.4 1017 L676.4 1006.7" stroke="#141414" stroke-width="1.7" fill="none"/>
<rect x="552.6" y="921" width="54.9" height="21.1" stroke="#141414" stroke-width="1.7" fill="none"/>
<rect x="552.6" y="983.3" width="54.9" height="21.4" stroke="#141414" stroke-width="1.7" fill="none"/>
<rect x="558.4" y="929.6" width="44.2" height="6.4" rx="1.2" stroke="#141414" stroke-width="1.7" fill="none"/>
<rect x="558.4" y="989.25" width="44.2" height="6.5" rx="1.2" stroke="#141414" stroke-width="1.7" fill="none"/>
<path d="M607.5 942.1 L683.4 942.1 L683.4 983.3 L607.5 983.3" stroke="#141414" stroke-width="1.7" fill="none"/>
<rect x="605.5" y="948.5" width="67.9" height="8.1" rx="1.2" stroke="#141414" stroke-width="1.7" fill="none"/>
<rect x="605.5" y="969.4" width="67.9" height="7.7" rx="1.2" stroke="#141414" stroke-width="1.7" fill="none"/>
<rect x="696.7" y="924" width="23.5" height="30.3" rx="4.7" stroke="#141414" stroke-width="1.7" fill="none"/>
<path d="M702.6 927.6 L714.35 927.6 L714.35 933.85 L719.07 933.85 L719.07 944.85 L714.35 944.85 L714.35 950.74 L702.6 950.74 L702.6 944.85 L711.2 944.85 L711.2 933.85 L702.6 933.85 Z" stroke="#141414" stroke-width="1.7" fill="none"/>
<rect x="696.7" y="971.1" width="23.5" height="30.3" rx="4.7" stroke="#141414" stroke-width="1.7" fill="none"/>
<path d="M702.6 974.7 L714.35 974.7 L714.35 980.95 L719.07 980.95 L719.07 991.95 L714.35 991.95 L714.35 997.84 L702.6 997.84 L702.6 991.95 L711.2 991.95 L711.2 980.95 L702.6 980.95 Z" stroke="#141414" stroke-width="1.7" fill="none"/>
<line x1="545.75" y1="962.4" x2="736" y2="962.4" stroke="#333" stroke-width="1" stroke-dasharray="12 4 2.5 4"/>
<line x1="640.9" y1="904" x2="640.9" y2="1021.75" stroke="#333" stroke-width="1" stroke-dasharray="10.2 6.7 2.8 2.8"/>
<line x1="640.9" y1="1047.25" x2="640.9" y2="1187" stroke="#333" stroke-width="1" stroke-dasharray="10.2 6.7 2.8 2.8"/>
<line x1="700" y1="939.35" x2="712" y2="939.35" stroke="#333" stroke-width="1" stroke-dasharray="3 3"/>
<line x1="533.6" y1="918.5" x2="548.7" y2="918.5" stroke="#2e2e2e" stroke-width="1.0"/>
<line x1="533.6" y1="1006.5" x2="548.7" y2="1006.5" stroke="#2e2e2e" stroke-width="1.0"/>
<line x1="537.5" y1="918.5" x2="537.5" y2="1006.7" stroke="#2e2e2e" stroke-width="1.0"/>
<path d="M537.6 918.5 L536.05 927.1 L539.15 927.1 Z" fill="#111"/>
<path d="M537.6 1006.7 L539.15 998.1 L536.05 998.1 Z" fill="#111"/>
<text transform="translate(530.9,966.9) rotate(-90)" x="0" y="4.86" font-size="13.5" text-anchor="middle" fill="#141414" stroke="#141414" stroke-width="0.05" textLength="48.35" lengthAdjust="spacingAndGlyphs">12.4±0.1</text>
<line x1="711" y1="939.5" x2="756.9" y2="939.5" stroke="#2e2e2e" stroke-width="1.0"/>
<line x1="697" y1="986.5" x2="756.9" y2="986.5" stroke="#2e2e2e" stroke-width="1.0"/>
<line x1="754.5" y1="939.35" x2="754.5" y2="986.5" stroke="#2e2e2e" stroke-width="1.0"/>
<path d="M754.6 939.35 L753.05 947.95 L756.15 947.95 Z" fill="#111"/>
<path d="M754.6 986.5 L756.15 977.9 L753.05 977.9 Z" fill="#111"/>
<text transform="translate(748,963.6) rotate(-90)" x="0" y="4.86" font-size="13.5" text-anchor="middle" fill="#141414" stroke="#141414" stroke-width="0.05" textLength="18.6" lengthAdjust="spacingAndGlyphs">6.6</text>
<path d="M548.7 1169.8 L548.7 1093.3 L588.3 1093.3 L621.27 1056.69 A26.55 26.55 0 0 1 660.73 1056.69 L693.7 1093.3 L733.25 1093.3 L733.25 1169.8 Z" stroke="#141414" stroke-width="1.7" fill="none"/>
<path d="M552.6 1169.8 L552.6 1181.6 L607.2 1181.6 L607.2 1169.8" stroke="#141414" stroke-width="1.7" fill="none"/>
<path d="M607.2 1178.6 L683.9 1178.6 L683.9 1169.8" stroke="#141414" stroke-width="1.7" fill="none"/>
<path d="M696.5 1169.8 L696.5 1175.1 L720.5 1175.1 L720.5 1169.8" stroke="#141414" stroke-width="1.7" fill="none"/>
<rect x="594.8" y="1111.3" width="81.6" height="6.9" stroke="#141414" stroke-width="1.7" fill="none"/>
<path d="M631.5 1085 L631.5 1073 C631.5 1068 635 1065.9 641 1065.9 C647 1065.9 650.65 1068 650.65 1073 L650.65 1085 Z" stroke="#141414" stroke-width="1.7" fill="none"/>
<line x1="548.5" y1="1036.1" x2="548.5" y2="1093.3" stroke="#2e2e2e" stroke-width="1.0"/>
<line x1="733.5" y1="1036.1" x2="733.5" y2="1093.3" stroke="#2e2e2e" stroke-width="1.0"/>
<line x1="548.7" y1="1040.5" x2="733.25" y2="1040.5" stroke="#2e2e2e" stroke-width="1.0"/>
<path d="M548.7 1040.7 L557.3 1042.25 L557.3 1039.15 Z" fill="#111"/>
<path d="M733.25 1040.7 L724.65 1039.15 L724.65 1042.25 Z" fill="#111"/>
<text x="642.4" y="1037.9" font-size="13.5" text-anchor="middle" font-weight="normal" fill="#141414" stroke="#141414" stroke-width="0.05" textLength="40.75" lengthAdjust="spacingAndGlyphs">26 ±0.2</text>
<line x1="530.3" y1="1093.5" x2="548.7" y2="1093.5" stroke="#2e2e2e" stroke-width="1.0"/>
<line x1="530.3" y1="1181.5" x2="552.6" y2="1181.5" stroke="#2e2e2e" stroke-width="1.0"/>
<line x1="534.5" y1="1093.3" x2="534.5" y2="1181.6" stroke="#2e2e2e" stroke-width="1.0"/>
<path d="M534.7 1093.3 L533.15 1101.9 L536.25 1101.9 Z" fill="#111"/>
<path d="M534.7 1181.6 L536.25 1173 L533.15 1173 Z" fill="#111"/>
<text transform="translate(528.1,1138.3) rotate(-90)" x="0" y="5.04" font-size="14" text-anchor="middle" fill="#141414" stroke="#141414" stroke-width="0.05" textLength="24.8" lengthAdjust="spacingAndGlyphs">12.5</text>
<line x1="733.25" y1="1093.5" x2="757.75" y2="1093.5" stroke="#2e2e2e" stroke-width="1.0"/>
<line x1="733.25" y1="1169.5" x2="757.75" y2="1169.5" stroke="#2e2e2e" stroke-width="1.0"/>
<line x1="755.5" y1="1093.3" x2="755.5" y2="1169.8" stroke="#2e2e2e" stroke-width="1.0"/>
<path d="M755.65 1093.3 L754.1 1101.9 L757.2 1101.9 Z" fill="#111"/>
<path d="M755.65 1169.8 L757.2 1161.2 L754.1 1161.2 Z" fill="#111"/>
<text transform="translate(749.2,1132.3) rotate(-90)" x="0" y="5.04" font-size="14" text-anchor="middle" fill="#141414" stroke="#141414" stroke-width="0.05" textLength="24.8" lengthAdjust="spacingAndGlyphs">10.8</text>
</svg></body></html>
